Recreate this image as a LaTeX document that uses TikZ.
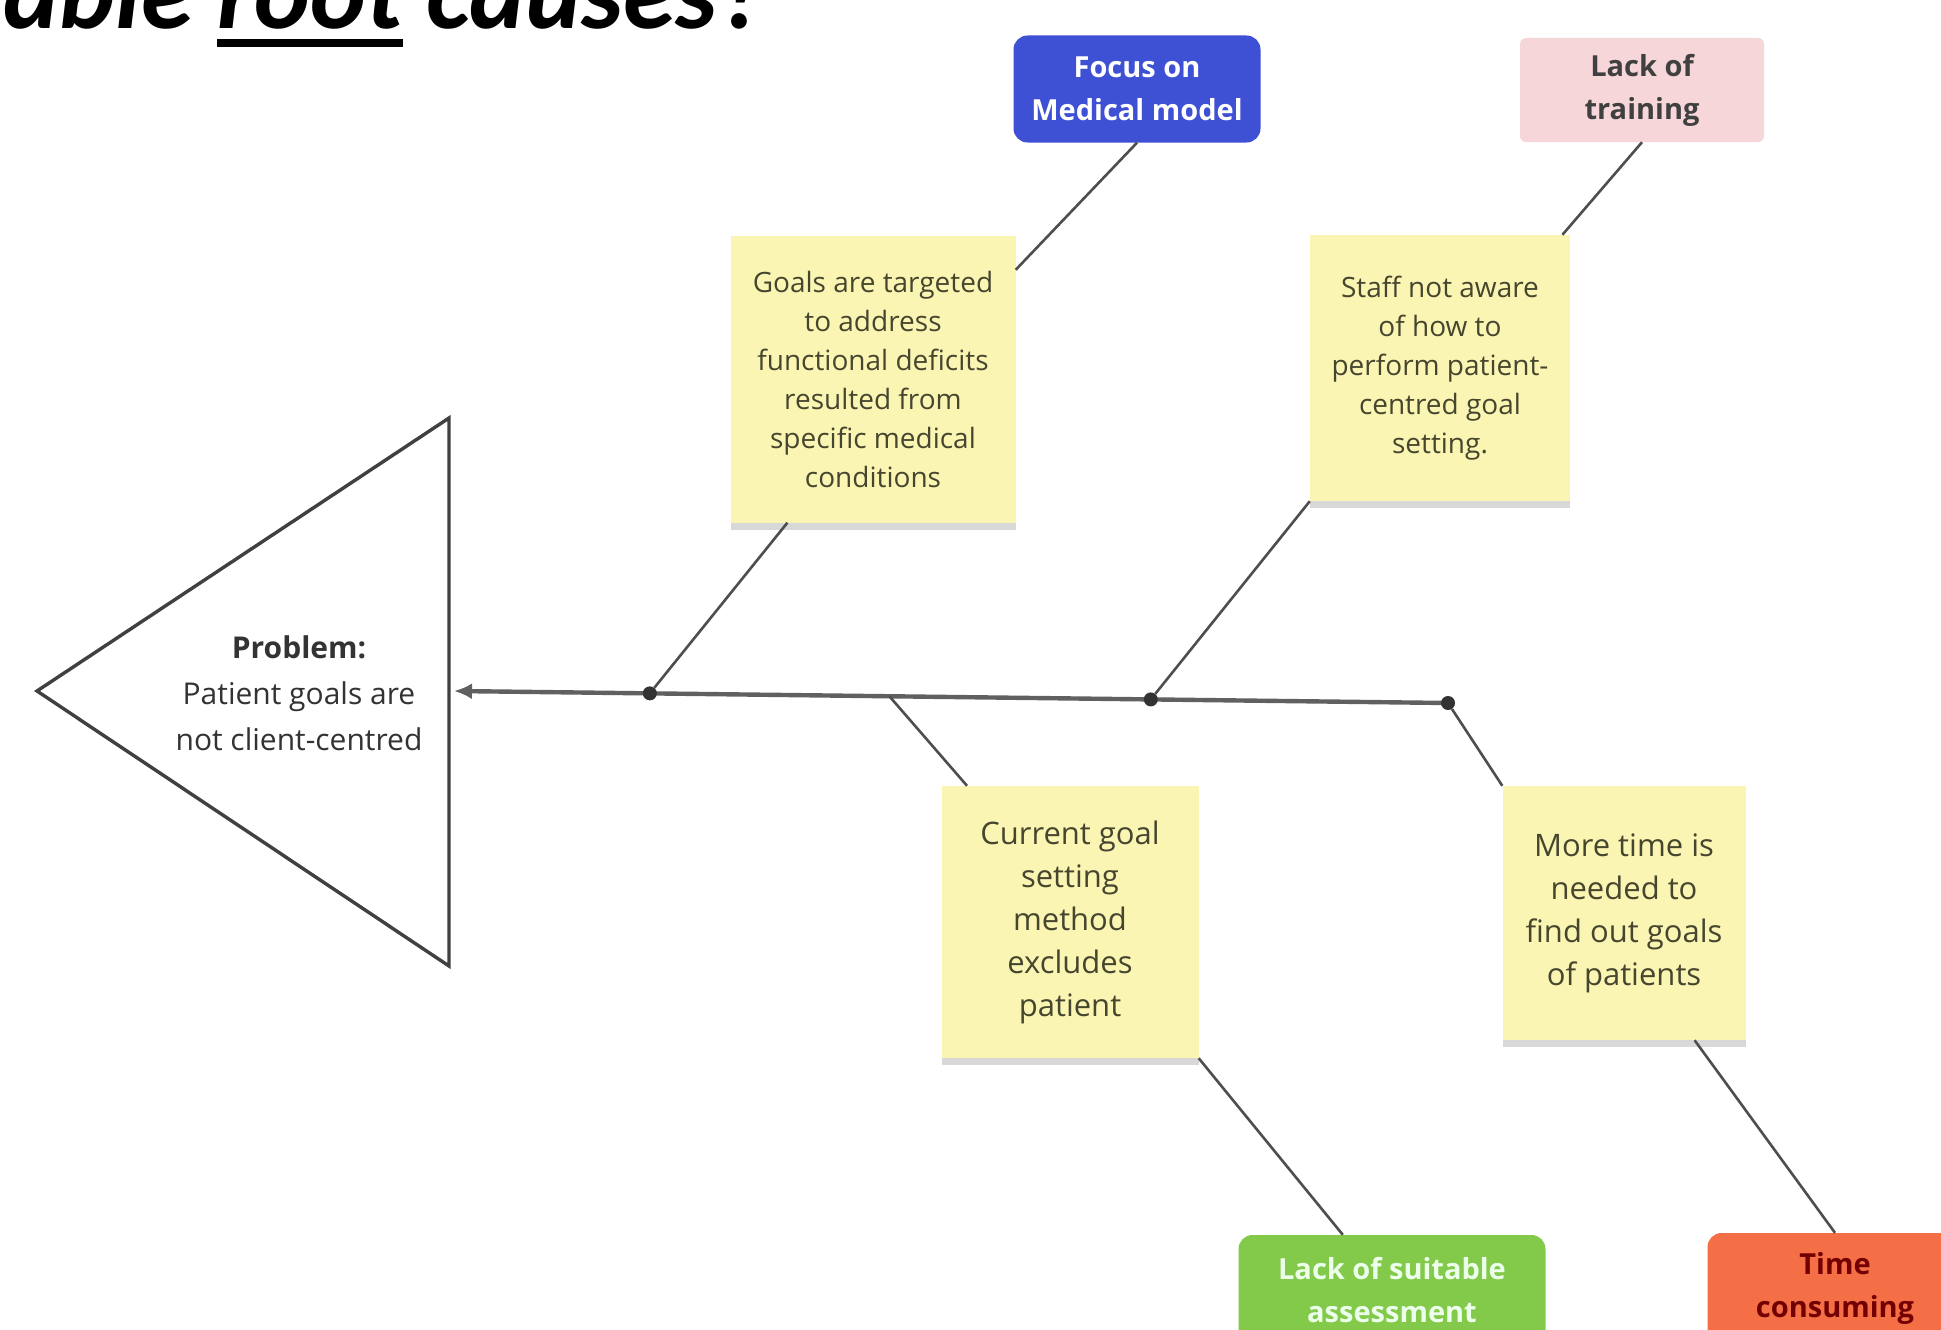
\documentclass[tikz,border=0pt]{standalone}
\usepackage{fontspec}
\setmainfont{Open Sans}
\newfontfamily\titlefont{Carlito}
\usepackage{tikz}
\usetikzlibrary{shapes,arrows.meta,shadows,calc}

\definecolor{stickyyellow}{RGB}{251,245,180}
\definecolor{stickytext}{RGB}{70,70,46}
\definecolor{causeblue}{RGB}{62,80,212}
\definecolor{causepink}{RGB}{246,214,217}
\definecolor{causegreen}{RGB}{132,202,74}
\definecolor{causeorange}{RGB}{244,110,70}
\definecolor{bonegray}{RGB}{78,78,78}

% underline drawn as a rule, so that it sits as low as in the slide
\newcommand{\rootline}[1]{\setbox0\hbox{#1}\rlap{\rule[-18pt]{\wd0}{8pt}}\box0\relax}

\tikzset{
  sticky/.style={rectangle,fill=stickyyellow,text=stickytext,align=center,inner sep=0pt,
    font=\fontsize{28}{39}\selectfont,
    drop shadow={shadow xshift=0pt,shadow yshift=-7pt,opacity=0.3}},
  bigsticky/.style={sticky,font=\fontsize{31}{43}\selectfont},
  rootcause/.style={rectangle,rounded corners=14pt,align=center,inner sep=0pt,
    font=\bfseries\fontsize{29}{43}\selectfont},
  bone/.style={draw=bonegray,line width=2.6pt},
  spine/.style={draw=bonegray!90,line width=4.4pt},
  joint/.style={circle,fill=black!80,inner sep=0pt,minimum size=14pt},
}

\begin{document}
\begin{tikzpicture}[x=1pt,y=-1pt]
  \path[use as bounding box,fill=white] (0,0) rectangle (1941,1330);

  % heading of the slide, cut by the top edge
  \node[anchor=base west,inner sep=0pt,
    font=\titlefont\bfseries\itshape\fontsize{106}{120}\selectfont]
    (title) at (3,29) {able \rootline{root} causes?};

  % fish head
  \coordinate (tip) at (37,691);
  \coordinate (headtop) at (449,418);
  \coordinate (headbot) at (449,966);
  \draw[draw=black!75,line width=3.4pt,line join=miter] (tip) -- (headtop) -- (headbot) -- cycle;
  \node[align=center,text=black!80,font=\fontsize{30}{46}\selectfont]
    (problem) at (299,693) {\textbf{Problem:}\\Patient goals are\\not client-centred};

  % spine
  \coordinate (head) at (454,691);
  \coordinate (tail) at (1448,703);
  \coordinate (j1) at ($(head)!0.197!(tail)$);
  \coordinate (j2) at ($(head)!0.438!(tail)$);
  \coordinate (j3) at ($(head)!0.701!(tail)$);
  \draw[spine,-{Latex[length=18pt,width=16pt]}] (tail) -- (head);
  \node[joint] (d1) at (j1) {};
  \node[joint] (d3) at (j3) {};
  \node[joint] (d4) at (tail) {};

  % causes
  \node[sticky,minimum width=285,minimum height=287] (goals) at (873,379)
    {Goals are targeted\\to address\\functional deficits\\resulted from\\specific medical\\conditions};
  \node[sticky,minimum width=260,minimum height=266] (staff) at (1440,368)
    {Staff not aware\\of how to\\perform patient-\\centred goal\\setting.};
  \node[bigsticky,minimum width=257,minimum height=272] (method) at (1070,922)
    {Current goal\\setting\\method\\excludes\\patient};
  \node[bigsticky,minimum width=243,minimum height=254] (time) at (1624,913)
    {More time is\\needed to\\find out goals\\of patients};

  % root causes
  \node[rootcause,fill=causeblue,text=white,minimum width=247,minimum height=107]
    (medical) at (1137,89) {Focus on\\Medical model};
  \node[rootcause,rounded corners=6pt,fill=causepink,text=black!75,minimum width=244,minimum height=104]
    (training) at (1642,90) {Lack of\\training};
  \node[rootcause,fill=causegreen,text=green!8,minimum width=307,minimum height=110]
    (assessment) at (1392,1290) {Lack of suitable\\assessment};
  \node[rootcause,fill=causeorange,text=red!45!black,minimum width=255,minimum height=110]
    (consuming) at (1835,1288) {Time\\consuming};

  % bones
  \draw[bone] (d1) -- ($(goals.south west)!0.2!(goals.south east)$);
  \draw[bone] ($(goals.north east)!0.12!(goals.south east)$) -- (medical.south);
  \draw[bone] (training.south) -- ($(staff.north west)!0.97!(staff.north east)$);
  \draw[bone] (d3) -- (staff.south west);
  \draw[bone] (j2) -- ($(method.north west)!0.1!(method.north east)$);
  \draw[bone] (method.south east) -- ($(assessment.north west)!0.34!(assessment.north east)$);
  \draw[bone] (d4) -- (time.north west);
  \draw[bone] ($(time.south west)!0.79!(time.south east)$) -- (consuming.north);
\end{tikzpicture}
\end{document}
